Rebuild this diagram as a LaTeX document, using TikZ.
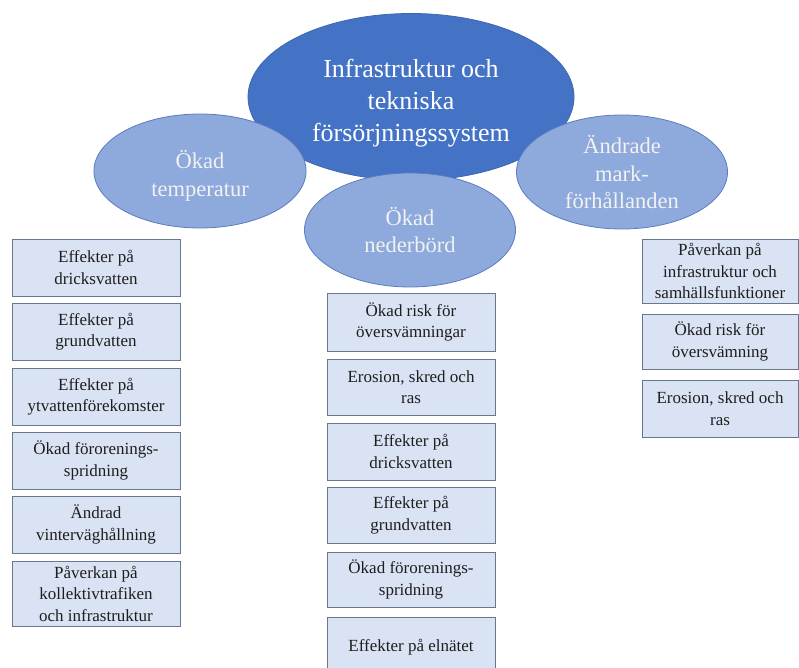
\documentclass[tikz,border=0pt]{standalone}
\usepackage{fontspec}
\setmainfont{Liberation Serif}
\usetikzlibrary{shapes.geometric}
\definecolor{mainblue}{HTML}{4472C4}
\definecolor{mainline}{HTML}{3E67B1}
\definecolor{lightblue}{HTML}{8EA9DB}
\definecolor{lightline}{HTML}{5B7CC0}
\definecolor{boxfill}{HTML}{DAE3F3}
\definecolor{boxline}{HTML}{67778C}
\definecolor{txt}{HTML}{1E1E1E}
\tikzset{
  x=1pt, y=-1pt,
  mainell/.style={ellipse, fill=mainblue, draw=mainline, line width=0.8pt, inner sep=0pt,
    text=white, align=center, font=\fontsize{26}{32}\selectfont},
  subell/.style={ellipse, fill=lightblue, draw=lightline, line width=0.8pt, inner sep=0pt,
    minimum width=211pt, minimum height=114pt,
    text=white!95!black, align=center, font=\fontsize{22.5}{27.5}\selectfont},
  effbox/.style={rectangle, fill=boxfill, draw=boxline, line width=0.9pt, inner sep=0pt,
    minimum width=168pt, text=txt, align=center, font=\fontsize{17}{21.5}\selectfont},
}
\begin{document}
\begin{tikzpicture}
\useasboundingbox (0,0) rectangle (799,668);
\clip (0,0) rectangle (799,668);
\fill[white] (0,0) rectangle (799,668);

\node[mainell, minimum width=326pt, minimum height=167pt] (main) at (411,97)
  {\raisebox{-6pt}[\height][\depth]{\parbox{200pt}{\centering Infrastruktur och\\tekniska\\försörjningssystem}}};

\node[subell] (temp) at (200,171) {\raisebox{-5pt}[\height][\depth]{\parbox{150pt}{\centering Ökad\\temperatur}}};
\node[subell] (mark) at (622,172) {Ändrade\\mark-\\förhållanden};
\node[subell] (neder) at (410,230) {Ökad\\nederbörd};

% left column
\node[effbox, minimum height=57pt] (l1) at (96,267.5) {Effekter på\\dricksvatten};
\node[effbox, minimum height=57pt] (l2) at (96,331.5) {Effekter på\\grundvatten};
\node[effbox, minimum height=57pt] (l3) at (96,396.5) {Effekter på\\ytvattenförekomster};
\node[effbox, minimum height=57pt] (l4) at (96,460.5) {Ökad förorenings-\\spridning};
\node[effbox, minimum height=57pt] (l5) at (96,524.5) {Ändrad\\vinterväghållning};
\node[effbox, minimum height=65pt] (l6) at (96,593.5) {Påverkan på\\kollektivtrafiken\\och infrastruktur};

% middle column
\node[effbox, minimum height=58pt] (m1) at (411,322) {Ökad risk för\\översvämningar};
\node[effbox, minimum height=56pt] (m2) at (411,387) {Erosion, skred och\\ras};
\node[effbox, minimum height=57pt] (m3) at (411,451.5) {Effekter på\\dricksvatten};
\node[effbox, minimum height=56pt] (m4) at (411,515) {Effekter på\\grundvatten};
\node[effbox, minimum height=55pt] (m5) at (411,579.5) {Ökad förorenings-\\spridning};
\node[effbox, minimum height=60pt] (m6) at (411,647) {Effekter på elnätet};

% right column
\node[effbox, minimum width=156pt, minimum height=64pt] (r1) at (720,271) {Påverkan på\\infrastruktur och\\samhällsfunktioner};
\node[effbox, minimum width=156pt, minimum height=55pt] (r2) at (720,341.5) {Ökad risk för\\översvämning};
\node[effbox, minimum width=156pt, minimum height=57pt] (r3) at (720,408.5) {Erosion, skred och\\ras};
\end{tikzpicture}
\end{document}
